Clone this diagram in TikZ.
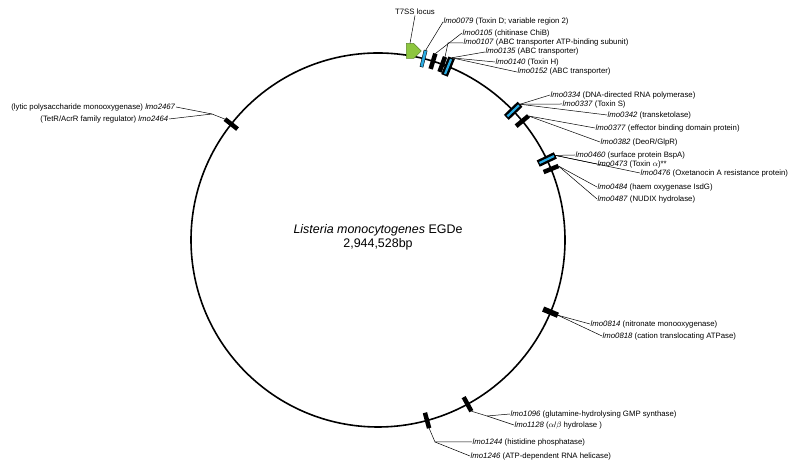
\documentclass[tikz,border=0pt]{standalone}
\usepackage{fontspec}
\setmainfont{Liberation Sans}
\usetikzlibrary{shapes.symbols,calc}
\definecolor{tox}{RGB}{41,171,226}
\definecolor{t7g}{RGB}{141,198,63}
\definecolor{t7d}{RGB}{95,135,45}
\begin{document}
\begin{tikzpicture}[x=1bp,y=1bp,
  lbl/.style={font=\fontsize{7.8}{9}\selectfont, inner sep=0.5bp},
  ttl/.style={font=\fontsize{12.5}{14}\selectfont, inner sep=0},
  lead/.style={line width=0.5bp},
  bar/.style={fill=black, draw=none, minimum width=16bp, minimum height=4.5bp, inner sep=0, outer sep=0},
  tbar/.style={fill=black, draw=none, minimum width=19bp, minimum height=7bp, inner sep=0, outer sep=0},
  tstripe/.style={fill=tox, draw=none, minimum width=16bp, minimum height=2.2bp, inner sep=0, outer sep=0},
  cbar/.style={fill=tox, draw=black, line width=0.4bp, minimum width=17bp, minimum height=3.2bp, inner sep=0, outer sep=0}]
\useasboundingbox (0,0) rectangle (800,469);
\coordinate (C) at (378,229);
\draw[line width=1.6bp] (C) circle (187);
% T7SS
\node[signal, signal to=east, fill=t7g, draw=t7d, line width=0.5bp, minimum width=15bp, minimum height=15bp, inner sep=0] (t7) at (410,418) {};
\node[lbl] (lt7) at (415,457) {T7SS locus};
\draw[lead] (lt7.south) -- (t7.north);
% markers
\node[cbar, rotate=75.9] (m0079) at ($(C)+(75.9:187)$) {};
\node[bar, rotate=72.9] (m0105) at ($(C)+(72.9:187)$) {};
\node[bar, rotate=69.9] (m0107) at ($(C)+(69.9:187)$) {};
\node[tbar, rotate=68.0] (m0135) at ($(C)+(68.0:187)$) {};
\node[tstripe, rotate=68.0] (s0135) at ($(C)+(68.0:187)$) {};
\node[tbar, rotate=43.7] (mA) at ($(C)+(43.7:187)$) {};
\node[tstripe, rotate=43.7] (sA) at ($(C)+(43.7:187)$) {};
\node[bar, rotate=39.5] (mB) at ($(C)+(39.5:187)$) {};
\node[tbar, rotate=25.5] (mC) at ($(C)+(25.5:187)$) {};
\node[tstripe, rotate=25.5] (sC) at ($(C)+(25.5:187)$) {};
\node[bar, rotate=22.3] (mD) at ($(C)+(22.3:187)$) {};
\node[bar, minimum height=5.5bp, rotate=-22.7] (mE) at ($(C)+(-22.7:187)$) {};
\node[bar, rotate=-61.4] (mF) at ($(C)+(-61.4:187)$) {};
\node[bar, rotate=-74.8] (mG) at ($(C)+(-74.8:187)$) {};
\node[bar, rotate=141.7] (mL) at ($(C)+(141.7:187)$) {};
% top labels
\node[lbl, anchor=west] (l0079) at (443,447) {\textit{lmo0079} (Toxin D; variable region 2)};
\node[lbl, anchor=west] (l0105) at (462,436) {\textit{lmo0105} (chitinase ChiB)};
\node[lbl, anchor=west] (l0107) at (463,426) {\textit{lmo0107} (ABC transporter ATP-binding subunit)};
\node[lbl, anchor=west] (l0135) at (485,417) {\textit{lmo0135} (ABC transporter)};
\node[lbl, anchor=west] (l0140) at (495,407) {\textit{lmo0140} (Toxin H)};
\node[lbl, anchor=west] (l0152) at (517,397) {\textit{lmo0152} (ABC transporter)};
\coordinate (e0107) at (448,426);
\draw[lead] (m0079.east) -- (l0079.west);
\draw[lead] (m0105.east) -- (l0105.west);
\draw[lead] (m0107.east) -- (e0107) -- (l0107.west);
\draw[lead] (m0135.east) -- (l0135.west);
\draw[lead] (m0135.east) -- (l0140.west);
\draw[lead] (m0135.east) -- (l0152.west);
% upper right
\node[lbl, anchor=west] (l0334) at (550,374) {\textit{lmo0334} (DNA-directed RNA polymerase)};
\node[lbl, anchor=west] (l0337) at (562,365) {\textit{lmo0337} (Toxin S)};
\node[lbl, anchor=west] (l0342) at (607,354) {\textit{lmo0342} (transketolase)};
\node[lbl, anchor=west] (l0377) at (595,341) {\textit{lmo0377} (effector binding domain protein)};
\node[lbl, anchor=west] (l0382) at (600,327) {\textit{lmo0382} (DeoR/GlpR)};
\draw[lead] (mA.east) -- (l0334.west);
\draw[lead] (mA.east) -- (l0337.west);
\draw[lead] (mA.east) -- (l0342.west);
\draw[lead] (mB.east) -- (l0377.west);
\draw[lead] (mB.east) -- (l0382.west);
% mid right
\node[lbl, anchor=west] (l0460) at (575,314) {\textit{lmo0460} (surface protein BspA)};
\node[lbl, anchor=west] (l0473) at (597,305) {\textit{lmo0473} (Toxin $\alpha$)**};
\node[lbl, anchor=west] (l0476) at (640,296) {\textit{lmo0476} (Oxetanocin A resistance protein)};
\node[lbl, anchor=west] (l0484) at (597,282) {\textit{lmo0484} (haem oxygenase IsdG)};
\node[lbl, anchor=west] (l0487) at (597,270) {\textit{lmo0487} (NUDIX hydrolase)};
\draw[lead] (mC.east) -- (l0460.west);
\draw[lead] (mC.east) -- (l0473.west);
\draw[lead] (mC.east) -- (l0476.west);
\draw[lead] (mD.east) -- (l0484.west);
\draw[lead] (mD.east) -- (l0487.west);
% lmo0814
\node[lbl, anchor=west] (l0814) at (590,145) {\textit{lmo0814} (nitronate monooxygenase)};
\node[lbl, anchor=west] (l0818) at (602,133) {\textit{lmo0818} (cation translocating ATPase)};
\draw[lead] (mE.east) -- (l0814.west);
\draw[lead] (mE.east) -- (l0818.west);
% bottom
\node[lbl, anchor=west] (l1096) at (510,55) {\textit{lmo1096} (glutamine-hydrolysing GMP synthase)};
\node[lbl, anchor=west] (l1128) at (514,44) {\textit{lmo1128} ($\alpha$/$\beta$ hydrolase )};
\coordinate (eF) at (487,53);
\draw[lead] (mF.east) -- (eF) -- (l1096.west);
\draw[lead] (eF) -- (l1128.west);
\node[lbl, anchor=west] (l1244) at (472,27) {\textit{lmo1244} (histidine phosphatase)};
\node[lbl, anchor=west] (l1246) at (470,13) {\textit{lmo1246} (ATP-dependent RNA helicase)};
\coordinate (eG) at (435,27);
\draw[lead] (mG.east) -- (eG) -- (l1244.west);
\draw[lead] (eG) -- (l1246.west);
% left
\node[lbl, anchor=east] (l2467) at (176,362) {(lytic polysaccharide monooxygenase) \textit{lmo2467}};
\node[lbl, anchor=east] (l2464) at (169,350) {(TetR/AcrR family regulator) \textit{lmo2464}};
\coordinate (eL) at (212,355);
\draw[lead] (mL.east) -- (eL) -- (l2467.east);
\draw[lead] (eL) -- (l2464.east);
% title
\node[ttl] (title) at (378,239) {\textit{Listeria monocytogenes} EGDe};
\node[ttl] (size) at (378,225) {2,944,528bp};
\end{tikzpicture}
\end{document}
